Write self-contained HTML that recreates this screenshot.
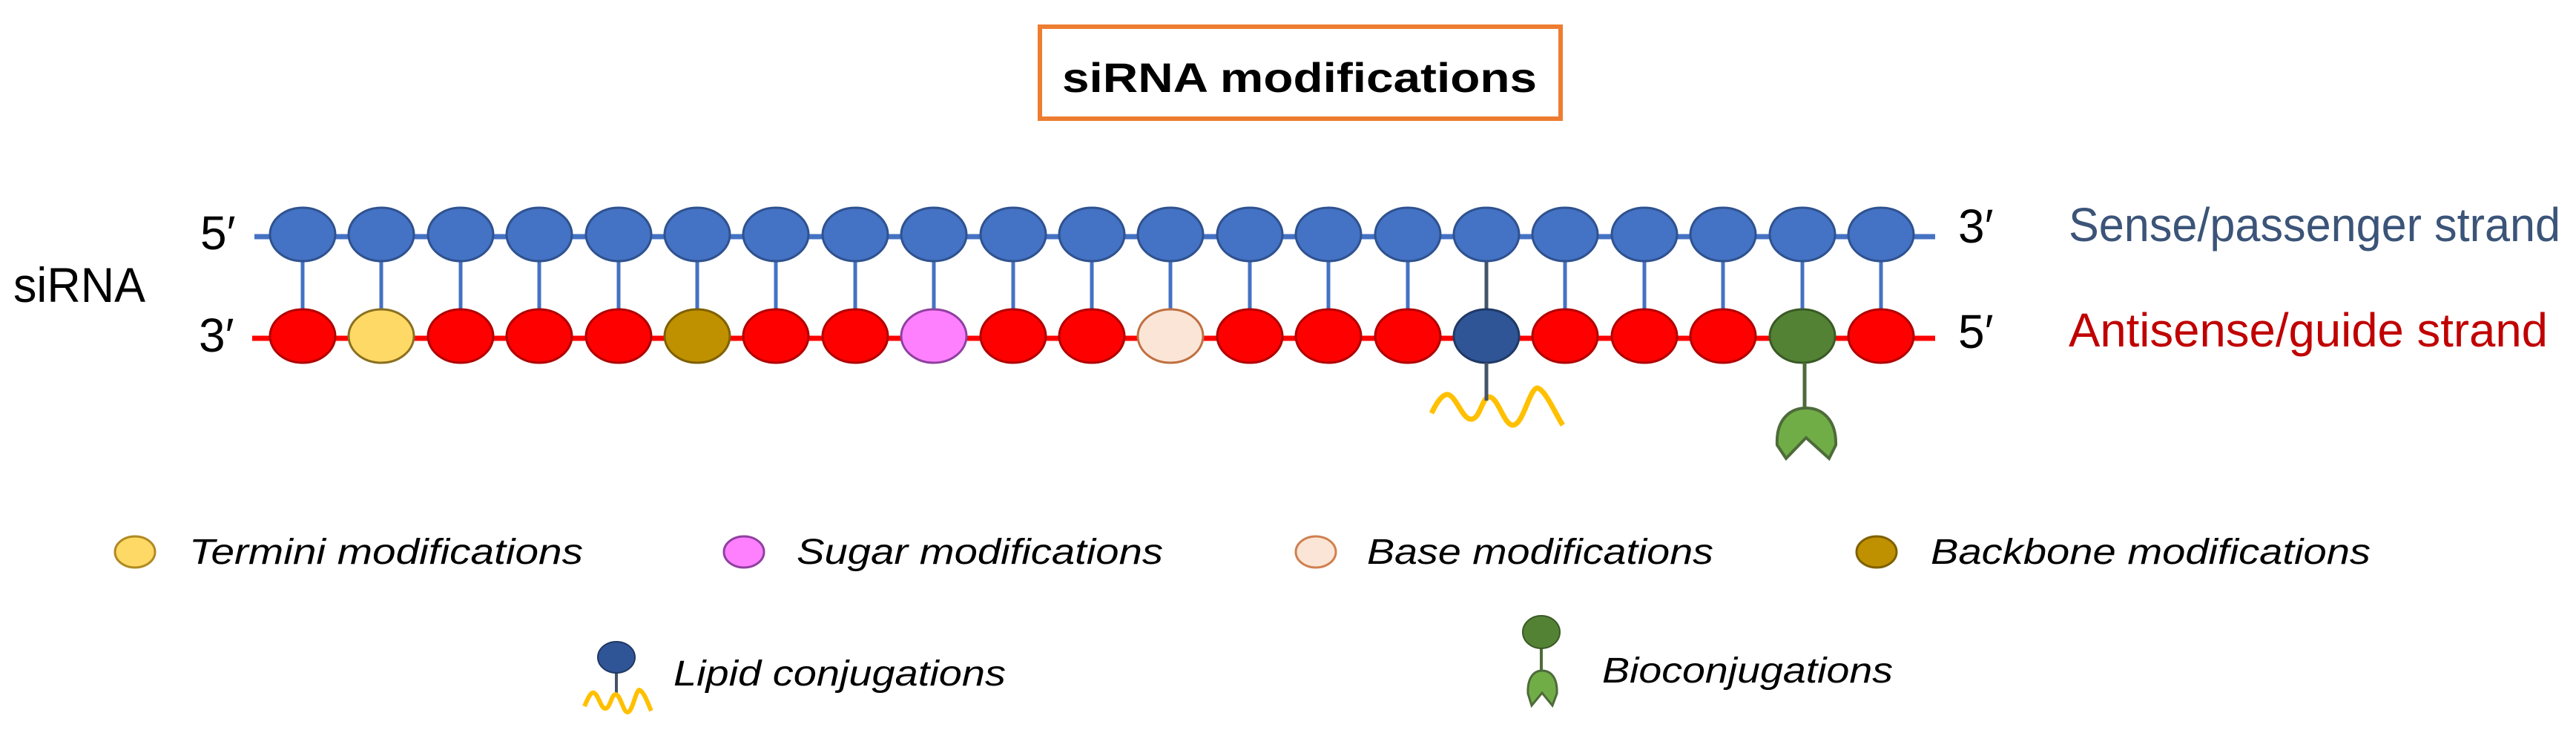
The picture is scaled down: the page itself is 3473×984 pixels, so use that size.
<!DOCTYPE html>
<html><head><meta charset="utf-8"><style>html,body{margin:0;padding:0;background:#fff}svg{display:block}</style></head>
<body>
<svg width="3473" height="984" viewBox="0 0 3473 984" xmlns="http://www.w3.org/2000/svg" font-family="'Liberation Sans', sans-serif">
<rect x="1402" y="36" width="702" height="124" fill="#fff" stroke="#ED7D31" stroke-width="6"/>
<text x="1432" y="124" font-size="56" font-weight="bold" textLength="640" lengthAdjust="spacingAndGlyphs">siRNA modifications</text>
<text x="18" y="407" font-size="66" textLength="178" lengthAdjust="spacingAndGlyphs">siRNA</text>
<text x="270" y="336" font-size="64">5′</text>
<text x="268" y="474" font-size="64">3′</text>
<text x="2640" y="327" font-size="64">3′</text>
<text x="2640" y="469" font-size="64">5′</text>
<text x="2789" y="325" font-size="64" fill="#3B5478" textLength="663" lengthAdjust="spacingAndGlyphs">Sense/passenger strand</text>
<text x="2789" y="467" font-size="64" fill="#C00000" textLength="646" lengthAdjust="spacingAndGlyphs">Antisense/guide strand</text>
<line x1="343" y1="319" x2="2609" y2="319" stroke="#4472C4" stroke-width="7"/>
<line x1="340" y1="456" x2="2609" y2="456" stroke="#FF0000" stroke-width="7"/>
<path d="M1930,557 C1938,540 1946,530 1953,532 C1964,536 1972,566 1984,565 C1996,564 1998,535 2008,535 C2020,536 2028,574 2040,573 C2054,572 2062,523 2073,523 C2084,526 2098,560 2107,573" fill="none" stroke="#FFC000" stroke-width="7"/>
<ellipse cx="182" cy="744" rx="27" ry="21" fill="#FFD966" stroke="#B08A20" stroke-width="3"/>
<text x="255" y="760" font-size="48" font-style="italic" textLength="531" lengthAdjust="spacingAndGlyphs">Termini modifications</text>
<ellipse cx="1003" cy="744" rx="27" ry="21" fill="#FF80FF" stroke="#9040A0" stroke-width="3"/>
<text x="1074" y="760" font-size="48" font-style="italic" textLength="494" lengthAdjust="spacingAndGlyphs">Sugar modifications</text>
<ellipse cx="1774" cy="744" rx="27" ry="21" fill="#FBE5D6" stroke="#D08050" stroke-width="3"/>
<text x="1843" y="760" font-size="48" font-style="italic" textLength="467" lengthAdjust="spacingAndGlyphs">Base modifications</text>
<ellipse cx="2530" cy="744" rx="27" ry="21" fill="#BF9000" stroke="#806000" stroke-width="3"/>
<text x="2603" y="760" font-size="48" font-style="italic" textLength="593" lengthAdjust="spacingAndGlyphs">Backbone modifications</text>
<line x1="831" y1="900" x2="831" y2="935" stroke="#44546A" stroke-width="4"/>
<ellipse cx="831" cy="886" rx="25" ry="21" fill="#2F5597" stroke="#203864" stroke-width="2"/>
<path d="M788,952 C793,940 797,932 801,934 C807,937 810,955 816,955 C823,955 824,936 830,936 C837,937 840,960 846,960 C853,960 857,930 862,930 C869,933 874,950 878,958" fill="none" stroke="#FFC000" stroke-width="6"/>
<text x="908" y="924" font-size="48" font-style="italic" textLength="448" lengthAdjust="spacingAndGlyphs">Lipid conjugations</text>
<line x1="2078" y1="865" x2="2078" y2="906" stroke="#4E6B3A" stroke-width="4"/>
<ellipse cx="2078" cy="852" rx="25" ry="22" fill="#548235" stroke="#3A5A25" stroke-width="2"/>
<path d="M2079,904 C2092,904 2100,915 2099,935 L2093,951 L2079,934 L2065,951 L2060,935 C2059,915 2067,904 2079,904 Z" fill="#70AD47" stroke="#4E6B3A" stroke-width="3"/>
<text x="2160" y="920" font-size="48" font-style="italic" textLength="392" lengthAdjust="spacingAndGlyphs">Bioconjugations</text>
<g stroke-width="3">
<line x1="408" y1="319" x2="408" y2="456" stroke="#4472C4" stroke-width="5"/><ellipse cx="408" cy="316" rx="44" ry="36" fill="#4472C4" stroke="#2F528F"/><ellipse cx="408" cy="453" rx="44" ry="36" fill="#FF0000" stroke="#B00000"/>
<line x1="514" y1="319" x2="514" y2="456" stroke="#4472C4" stroke-width="5"/><ellipse cx="514" cy="316" rx="44" ry="36" fill="#4472C4" stroke="#2F528F"/><ellipse cx="514" cy="453" rx="44" ry="36" fill="#FFD966" stroke="#8A7020"/>
<line x1="621" y1="319" x2="621" y2="456" stroke="#4472C4" stroke-width="5"/><ellipse cx="621" cy="316" rx="44" ry="36" fill="#4472C4" stroke="#2F528F"/><ellipse cx="621" cy="453" rx="44" ry="36" fill="#FF0000" stroke="#B00000"/>
<line x1="727" y1="319" x2="727" y2="456" stroke="#4472C4" stroke-width="5"/><ellipse cx="727" cy="316" rx="44" ry="36" fill="#4472C4" stroke="#2F528F"/><ellipse cx="727" cy="453" rx="44" ry="36" fill="#FF0000" stroke="#B00000"/>
<line x1="834" y1="319" x2="834" y2="456" stroke="#4472C4" stroke-width="5"/><ellipse cx="834" cy="316" rx="44" ry="36" fill="#4472C4" stroke="#2F528F"/><ellipse cx="834" cy="453" rx="44" ry="36" fill="#FF0000" stroke="#B00000"/>
<line x1="940" y1="319" x2="940" y2="456" stroke="#4472C4" stroke-width="5"/><ellipse cx="940" cy="316" rx="44" ry="36" fill="#4472C4" stroke="#2F528F"/><ellipse cx="940" cy="453" rx="44" ry="36" fill="#BF9000" stroke="#7F6000"/>
<line x1="1046" y1="319" x2="1046" y2="456" stroke="#4472C4" stroke-width="5"/><ellipse cx="1046" cy="316" rx="44" ry="36" fill="#4472C4" stroke="#2F528F"/><ellipse cx="1046" cy="453" rx="44" ry="36" fill="#FF0000" stroke="#B00000"/>
<line x1="1153" y1="319" x2="1153" y2="456" stroke="#4472C4" stroke-width="5"/><ellipse cx="1153" cy="316" rx="44" ry="36" fill="#4472C4" stroke="#2F528F"/><ellipse cx="1153" cy="453" rx="44" ry="36" fill="#FF0000" stroke="#B00000"/>
<line x1="1259" y1="319" x2="1259" y2="456" stroke="#4472C4" stroke-width="5"/><ellipse cx="1259" cy="316" rx="44" ry="36" fill="#4472C4" stroke="#2F528F"/><ellipse cx="1259" cy="453" rx="44" ry="36" fill="#FF80FF" stroke="#9040A0"/>
<line x1="1366" y1="319" x2="1366" y2="456" stroke="#4472C4" stroke-width="5"/><ellipse cx="1366" cy="316" rx="44" ry="36" fill="#4472C4" stroke="#2F528F"/><ellipse cx="1366" cy="453" rx="44" ry="36" fill="#FF0000" stroke="#B00000"/>
<line x1="1472" y1="319" x2="1472" y2="456" stroke="#4472C4" stroke-width="5"/><ellipse cx="1472" cy="316" rx="44" ry="36" fill="#4472C4" stroke="#2F528F"/><ellipse cx="1472" cy="453" rx="44" ry="36" fill="#FF0000" stroke="#B00000"/>
<line x1="1578" y1="319" x2="1578" y2="456" stroke="#4472C4" stroke-width="5"/><ellipse cx="1578" cy="316" rx="44" ry="36" fill="#4472C4" stroke="#2F528F"/><ellipse cx="1578" cy="453" rx="44" ry="36" fill="#FBE5D6" stroke="#C07040"/>
<line x1="1685" y1="319" x2="1685" y2="456" stroke="#4472C4" stroke-width="5"/><ellipse cx="1685" cy="316" rx="44" ry="36" fill="#4472C4" stroke="#2F528F"/><ellipse cx="1685" cy="453" rx="44" ry="36" fill="#FF0000" stroke="#B00000"/>
<line x1="1791" y1="319" x2="1791" y2="456" stroke="#4472C4" stroke-width="5"/><ellipse cx="1791" cy="316" rx="44" ry="36" fill="#4472C4" stroke="#2F528F"/><ellipse cx="1791" cy="453" rx="44" ry="36" fill="#FF0000" stroke="#B00000"/>
<line x1="1898" y1="319" x2="1898" y2="456" stroke="#4472C4" stroke-width="5"/><ellipse cx="1898" cy="316" rx="44" ry="36" fill="#4472C4" stroke="#2F528F"/><ellipse cx="1898" cy="453" rx="44" ry="36" fill="#FF0000" stroke="#B00000"/>
<line x1="2004" y1="319" x2="2004" y2="456" stroke="#44546A" stroke-width="5"/><ellipse cx="2004" cy="316" rx="44" ry="36" fill="#4472C4" stroke="#2F528F"/><ellipse cx="2004" cy="453" rx="44" ry="36" fill="#2F5597" stroke="#203864"/>
<line x1="2110" y1="319" x2="2110" y2="456" stroke="#4472C4" stroke-width="5"/><ellipse cx="2110" cy="316" rx="44" ry="36" fill="#4472C4" stroke="#2F528F"/><ellipse cx="2110" cy="453" rx="44" ry="36" fill="#FF0000" stroke="#B00000"/>
<line x1="2217" y1="319" x2="2217" y2="456" stroke="#4472C4" stroke-width="5"/><ellipse cx="2217" cy="316" rx="44" ry="36" fill="#4472C4" stroke="#2F528F"/><ellipse cx="2217" cy="453" rx="44" ry="36" fill="#FF0000" stroke="#B00000"/>
<line x1="2323" y1="319" x2="2323" y2="456" stroke="#4472C4" stroke-width="5"/><ellipse cx="2323" cy="316" rx="44" ry="36" fill="#4472C4" stroke="#2F528F"/><ellipse cx="2323" cy="453" rx="44" ry="36" fill="#FF0000" stroke="#B00000"/>
<line x1="2430" y1="319" x2="2430" y2="456" stroke="#4472C4" stroke-width="5"/><ellipse cx="2430" cy="316" rx="44" ry="36" fill="#4472C4" stroke="#2F528F"/><ellipse cx="2430" cy="453" rx="44" ry="36" fill="#548235" stroke="#3A5A25"/>
<line x1="2536" y1="319" x2="2536" y2="456" stroke="#4472C4" stroke-width="5"/><ellipse cx="2536" cy="316" rx="44" ry="36" fill="#4472C4" stroke="#2F528F"/><ellipse cx="2536" cy="453" rx="44" ry="36" fill="#FF0000" stroke="#B00000"/>
</g>
<line x1="2004" y1="489" x2="2004" y2="540" stroke="#44546A" stroke-width="5"/>
<line x1="2433" y1="489" x2="2433" y2="552" stroke="#4E6B3A" stroke-width="5"/>
<path d="M2435,550 C2456,550 2476,565 2475,600 L2466,618 L2435,590 L2408,618 L2396,600 C2394,565 2414,550 2435,550 Z" fill="#70AD47" stroke="#4E6B3A" stroke-width="4"/>
</svg>
</body></html>
